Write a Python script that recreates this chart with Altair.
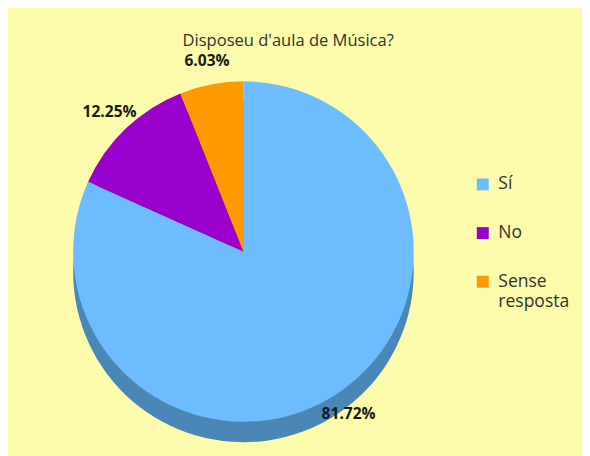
import altair as alt
import pandas as pd

categories = ["Sí", "No", "Sense resposta"]
values = [81.72, 12.25, 6.03]
labels = ["81.72%", "12.25%", "6.03%"]
order_idx = [0, 1, 2]
top_colors = ["#6cbcff", "#9900cc", "#ff9900"]
side_colors = ["#4a86b6", "#6a0090", "#b06a00"]

df = pd.DataFrame({"cat": categories, "val": values, "lab": labels, "ord": order_idx})

CX, CY = 242, 202
R = 175
DEPTH = 21

theta = alt.Theta("val:Q", stack=True)
order = alt.Order("ord:O", sort="ascending")

side = alt.Chart(df).mark_arc(outerRadius=R).encode(
    theta=theta,
    order=order,
    color=alt.Color("cat:N", scale=alt.Scale(domain=categories, range=side_colors), legend=None),
    x=alt.value(CX),
    y=alt.value(CY + DEPTH),
)

top = alt.Chart(df).mark_arc(outerRadius=R).encode(
    theta=theta,
    order=order,
    color=alt.Color(
        "cat:N",
        scale=alt.Scale(domain=categories, range=top_colors),
        sort=categories,
        legend=alt.Legend(
            title=None,
            orient="none",
            legendX=479,
            legendY=124,
            symbolType="square",
            symbolSize=150,
            symbolStrokeWidth=0,
            labelFontSize=18,
            labelFont="Open Sans",
            labelColor="#333333",
            labelOffset=7,
            rowPadding=32,
            labelExpr="datum.label == 'Sense resposta' ? ['Sense', 'resposta'] : datum.label",
        ),
    ),
    x=alt.value(CX),
    y=alt.value(CY),
)

text = alt.Chart(df).mark_text(
    radius=199, fontSize=16, fontWeight="bold", font="Open Sans", color="#1a1a1a"
).encode(
    theta=theta,
    order=order,
    text="lab:N",
    x=alt.value(CX),
    y=alt.value(CY),
)

chart = (
    alt.layer(side, top, text)
    .resolve_scale(color="independent")
    .properties(
        width=582,
        height=406,
        autosize=alt.AutoSizeParams(type="none"),
        padding={"top": 42, "left": 0, "right": 8, "bottom": 8},
        background="#fbfbab",
        title=alt.TitleParams(
            "Disposeu d'aula de Música?",
            fontSize=17,
            fontWeight="normal",
            font="Open Sans",
            color="#333333",
            anchor="middle",
            offset=4,
            dx=-3,
        ),
    )
    .configure(style={"guide-label": {"lineHeight": 21}})
    .configure_view(stroke=None)
)

chart.save("out.html", embed_options={"renderer": "svg", "actions": False})
